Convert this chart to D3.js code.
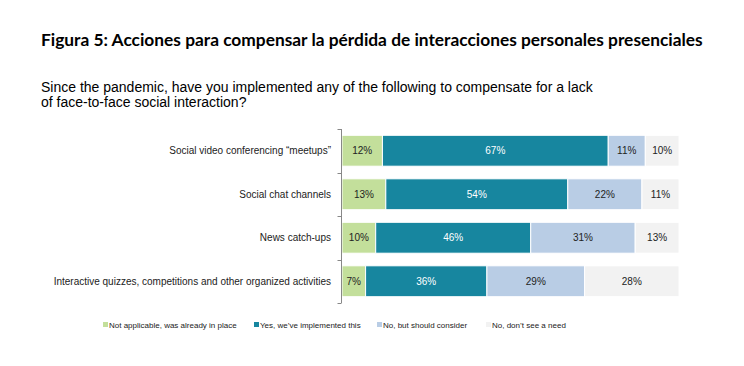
<!DOCTYPE html>
<html>
<head>
<meta charset="utf-8">
<script src="https://cdn.jsdelivr.net/npm/d3@7"></script>
<style>
	body { margin: 0; background: #fff; }
	svg { display: block; }
	text { font-family: "Liberation Sans", Arial, sans-serif; }
</style>
</head>
<body>
<div id="chart"></div>
<script>
const categories = [
	'Social video conferencing \u201cmeetups\u201d',
	'Social chat channels',
	'News catch-ups',
	'Interactive quizzes, competitions and other organized activities'
];
const seriesNames = [
	'Not applicable, was already in place',
	'Yes, we\u2019ve implemented this',
	'No, but should consider',
	'No, don\u2019t see a need'
];
const notApplicable = [12, 13, 10, 7];
const implemented = [67, 54, 46, 36];
const shouldConsider = [11, 22, 31, 29];
const noNeed = [10, 11, 13, 28];
const colors = ['#c3df9b', '#17869f', '#b9cde5', '#f2f2f2'];
const labelColors = ['#222', '#fff', '#222', '#222'];

const W = 744, H = 366;
const svg = d3.select('#chart').append('svg')
	.attr('width', W)
	.attr('height', H);

// title, stretched to the width it has in the picture
const title = svg.append('text')
	.attr('x', 41)
	.attr('y', 46)
	.style('font-family', 'Lato, "Open Sans", sans-serif')
	.style('font-weight', 'bold')
	.style('font-size', '17px')
	.attr('fill', '#000')
	.text('Figura 5: Acciones para compensar la pérdida de interacciones personales presenciales');
const tw = title.node().getComputedTextLength();
title.style('font-size', (17 * 662 / tw).toFixed(2) + 'px');

const sub = svg.append('text')
	.attr('x', 41)
	.attr('fill', '#000')
	.style('font-size', '14px');
sub.append('tspan').attr('x', 41).attr('y', 92)
	.text('Since the pandemic, have you implemented any of the following to compensate for a lack');
sub.append('tspan').attr('x', 41).attr('y', 107)
	.text('of face-to-face social interaction?');

// stacked data
const rows = categories.map((c, i) => ({
	cat: c,
	vals: [notApplicable[i], implemented[i], shouldConsider[i], noNeed[i]]
}));
const stack = d3.stack()
	.keys([0, 1, 2, 3])
	.value((d, k) => d.vals[k]);
const layers = stack(rows);

const x = d3.scaleLinear().domain([0, 100]).range([342, 679]);
const y = d3.scaleBand()
	.domain(categories)
	.range([129, 303])
	.paddingInner(0.29)
	.paddingOuter(0.145);

svg.selectAll('.layer')
	.data(layers)
	.join('g')
	.attr('class', 'layer')
	.attr('fill', (d, i) => colors[i])
	.selectAll('rect')
	.data(d => d)
	.join('rect')
	.attr('x', d => x(d[0]))
	.attr('y', d => y(d.data.cat))
	.attr('width', d => x(d[1]) - x(d[0]))
	.attr('height', y.bandwidth())
	.attr('stroke', '#fff')
	.attr('stroke-width', 1);

layers.forEach((layer, i) => {
	svg.append('g')
		.selectAll('text')
		.data(layer)
		.join('text')
		.attr('x', d => (x(d[0]) + x(d[1])) / 2)
		.attr('y', d => y(d.data.cat) + y.bandwidth() / 2)
		.attr('dy', '0.35em')
		.attr('text-anchor', 'middle')
		.attr('fill', labelColors[i])
		.style('font-size', '10px')
		.text(d => (d[1] - d[0]) + '%');
});

// axis with ticks at the band edges
const axisG = svg.append('g');
axisG.append('line')
	.attr('x1', 341.5).attr('x2', 341.5)
	.attr('y1', y.range()[0]).attr('y2', y.range()[1])
	.attr('stroke', '#888');
const edges = categories.map(c => y(c) - y.step() * y.paddingInner() / 2);
edges[0] = y.range()[0];
edges.push(y.range()[1]);
axisG.selectAll('.tick')
	.data(edges)
	.join('line')
	.attr('class', 'tick')
	.attr('x1', 337.5).attr('x2', 341.5)
	.attr('y1', d => Math.round(d) + 0.5).attr('y2', d => Math.round(d) + 0.5)
	.attr('stroke', '#888');

svg.append('g')
	.selectAll('text')
	.data(categories)
	.join('text')
	.attr('x', 331)
	.attr('y', d => y(d) + y.bandwidth() / 2)
	.attr('dy', '0.35em')
	.attr('text-anchor', 'end')
	.attr('fill', '#222')
	.style('font-size', '10px')
	.text(d => d);

// legend
const legendX = [103, 254, 377, 486];
const legend = svg.append('g')
	.selectAll('g')
	.data(seriesNames)
	.join('g')
	.attr('transform', (d, i) => `translate(${legendX[i]}, 325)`);
legend.append('rect')
	.attr('x', 0).attr('y', -3)
	.attr('width', 5).attr('height', 5)
	.attr('fill', (d, i) => colors[i]);
legend.append('text')
	.attr('x', 6)
	.attr('dy', '0.35em')
	.attr('fill', '#222')
	.style('font-size', '8px')
	.text(d => d);
</script>
</body>
</html>
